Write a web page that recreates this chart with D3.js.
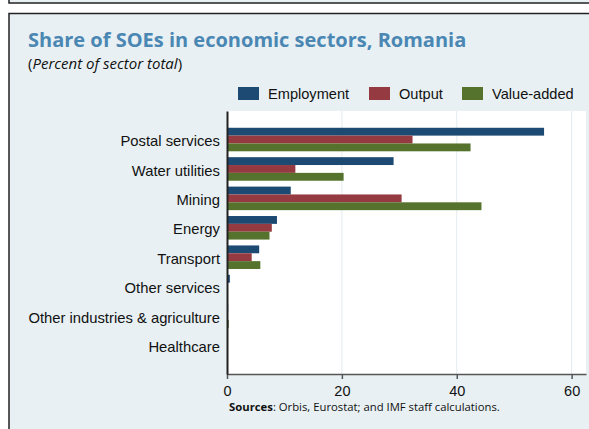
<!DOCTYPE html>
<html>
<head>
<meta charset="utf-8">
<script src="https://cdn.jsdelivr.net/npm/d3@7"></script>
<style>
  body { margin: 0; background: #ffffff; }
  svg { display: block; }
</style>
</head>
<body>
<svg></svg>
<script>
// Data
const sectors = ["Postal services", "Water utilities", "Mining", "Energy", "Transport",
  "Other services", "Other industries & agriculture", "Healthcare"];
const employment = [55.2, 29.0, 11.1, 8.7, 5.6, 0.5, 0.2, 0];
const output = [32.3, 11.9, 30.4, 7.8, 4.3, 0.1, 0.1, 0];
const valueAdded = [42.4, 20.3, 44.3, 7.4, 5.8, 0.1, 0.3, 0];
const seriesNames = ["Employment", "Output", "Value-added"];
const xTicks = [0, 20, 40, 60];

const colors = ["#1d4a73", "#953a40", "#55732c"];

const width = 589, height = 429;
const plot = { left: 227, right: 586, top: 111, bottom: 374 };

const svg = d3.select("svg")
  .attr("width", width)
  .attr("height", height);

// panel frame
svg.append("rect").attr("x", 9).attr("y", -5).attr("width", 600).attr("height", 8)
  .attr("fill", "#e8f0f3").attr("stroke", "#222").attr("stroke-width", 1.5);
svg.append("rect").attr("x", 9).attr("y", 13.5).attr("width", 600).attr("height", 430)
  .attr("fill", "#e8f0f3").attr("stroke", "#222").attr("stroke-width", 1.5);

// title
svg.append("text")
  .attr("x", 28).attr("y", 47)
  .attr("font-family", "'Open Sans', 'Noto Sans', sans-serif")
  .attr("font-weight", "bold")
  .attr("font-size", 20)
  .attr("fill", "#4a87b3")
  .text("Share of SOEs in economic sectors, Romania");

const sub = svg.append("text")
  .attr("x", 28).attr("y", 69)
  .attr("font-family", "'Open Sans', 'Noto Sans', sans-serif")
  .attr("font-size", 15)
  .attr("fill", "#111");
sub.append("tspan").text("(");
sub.append("tspan").attr("font-style", "italic").text("Percent of sector total");
sub.append("tspan").text(")");

// plot background
svg.append("rect")
  .attr("x", plot.left).attr("y", plot.top)
  .attr("width", plot.right - plot.left).attr("height", plot.bottom - plot.top)
  .attr("fill", "#ffffff");

// scales
const x = d3.scaleLinear().domain([0, 62.5]).range([plot.left, plot.right]);
const y = d3.scaleBand().domain(sectors).range([plot.top, plot.bottom])
  .paddingInner(0.2).paddingOuter(0.57);
const ySub = d3.scaleBand().domain(seriesNames).range([0, y.bandwidth()]);

// gridlines
svg.append("g")
  .selectAll("line")
  .data(xTicks.filter(d => d > 0))
  .join("line")
  .attr("x1", d => x(d)).attr("x2", d => x(d))
  .attr("y1", plot.top).attr("y2", plot.bottom)
  .attr("stroke", "#e3ebee").attr("stroke-width", 1);

// bars
const seriesData = [employment, output, valueAdded];
seriesNames.forEach((name, si) => {
  svg.append("g")
    .selectAll("rect")
    .data(sectors.map((s, i) => ({ sector: s, value: seriesData[si][i] })))
    .join("rect")
    .attr("x", x(0))
    .attr("y", d => y(d.sector) + ySub(name))
    .attr("width", d => x(d.value) - x(0))
    .attr("height", ySub.bandwidth())
    .attr("fill", colors[si]);
});

// x axis
const xAxis = svg.append("g")
  .attr("transform", `translate(0,${plot.bottom})`)
  .call(d3.axisBottom(x).tickValues(xTicks).tickSize(5).tickSizeOuter(0));
xAxis.select(".domain").attr("stroke", "#555").attr("stroke-width", 1.5);
xAxis.selectAll(".tick line").attr("stroke", "#555").attr("stroke-width", 1.5);
xAxis.selectAll(".tick text")
  .attr("font-family", "'Liberation Sans', Arial, sans-serif")
  .attr("font-size", 14.5)
  .attr("fill", "#111")
  .attr("dy", "0.95em");

// y axis
const yAxis = svg.append("g")
  .attr("transform", `translate(${plot.left},0)`)
  .call(d3.axisLeft(y).tickSize(0).tickPadding(7));
yAxis.select(".domain").attr("stroke", "#222").attr("stroke-width", 2);
yAxis.selectAll(".tick text")
  .attr("font-family", "'Liberation Sans', Arial, sans-serif")
  .attr("font-size", 14.8)
  .attr("fill", "#111")
  .attr("dy", "0.45em");

// legend
const legendX = [238, 369, 462];
const legend = svg.append("g");
seriesNames.forEach((name, i) => {
  legend.append("rect")
    .attr("x", legendX[i]).attr("y", 87)
    .attr("width", 21).attr("height", 13)
    .attr("fill", colors[i]);
  legend.append("text")
    .attr("x", legendX[i] + 30).attr("y", 99)
    .attr("font-family", "'Liberation Sans', Arial, sans-serif")
    .attr("font-size", 14.6)
    .attr("fill", "#111")
    .text(name);
});

// source note
const src = svg.append("text")
  .attr("x", 229).attr("y", 411)
  .attr("font-family", "'Open Sans', 'Noto Sans', sans-serif")
  .attr("font-size", 11.3)
  .attr("fill", "#111");
src.append("tspan").attr("font-weight", "bold").text("Sources");
src.append("tspan").text(": Orbis, Eurostat; and IMF staff calculations.");
</script>
</body>
</html>
